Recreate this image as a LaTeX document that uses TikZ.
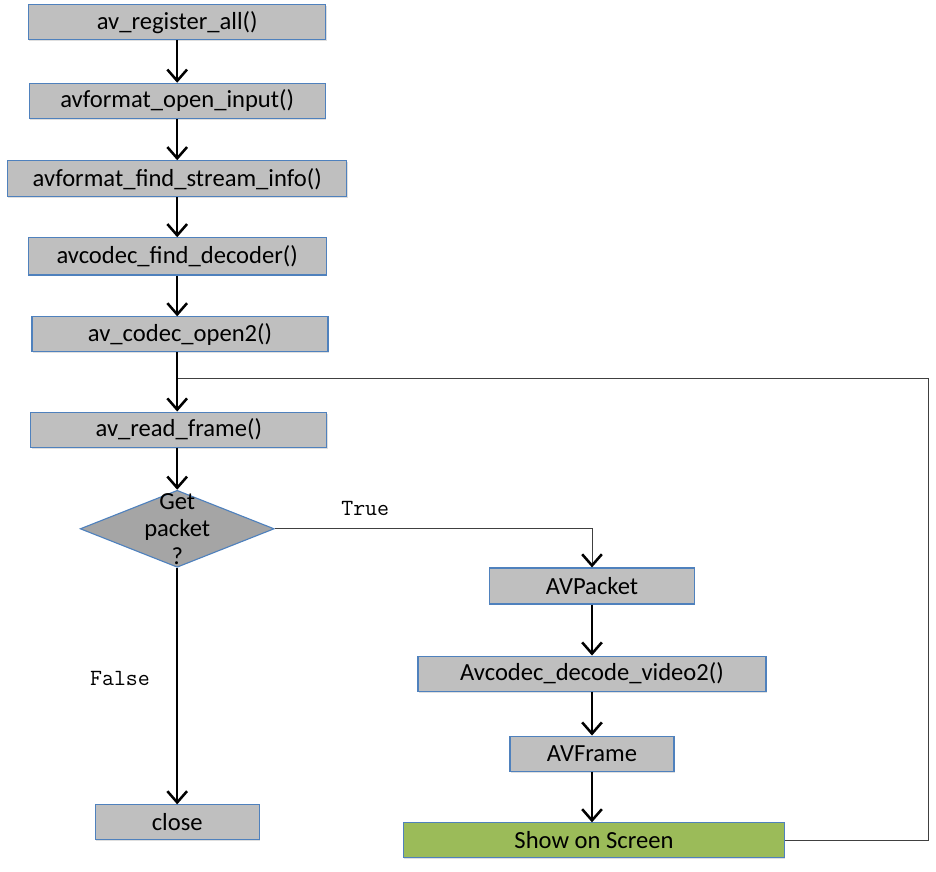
\documentclass[tikz,border=0pt]{standalone}
\usepackage{fontspec}
\setmainfont{Carlito}
\usetikzlibrary{arrows.meta,shapes.geometric,shadows}
\definecolor{boxgray}{HTML}{BFBFBF}
\definecolor{diagray}{HTML}{A5A5A5}
\definecolor{boxblue}{HTML}{4F81BD}
\definecolor{showgreen}{HTML}{9BBB59}
\begin{document}
\begin{tikzpicture}[
        line width=0.9pt,
        every node/.style={font=\fontsize{17.5}{20}\selectfont},
        func/.style={draw=boxblue, fill=boxgray, line width=0.8pt,
          minimum height=0.875cm, inner sep=0pt,
          drop shadow={opacity=0.25, shadow xshift=0.5pt, shadow yshift=-1pt}},
        flow/.style={black, line width=1.8pt, -{Straight Barb[length=8pt, width=14pt]}},
        thinline/.style={draw=black!75, line width=0.6pt},
        branch/.style={font=\ttfamily\fontsize{16.5}{18}\selectfont}
    ]
    \useasboundingbox (0,0) rectangle (23.4,-21.8);

    % Left column: setup calls
    \node[func, minimum width=7.43cm] (reg) at (4.43,-0.56) {av\_register\_all()};
    \node[func, minimum width=7.40cm] (open) at (4.43,-2.52) {avformat\_open\_input()};
    \node[func, minimum width=8.48cm, minimum height=0.9cm] (find) at (4.43,-4.47) {avformat\_find\_stream\_info()};
    \node[func, minimum width=7.45cm, minimum height=0.93cm] (dec) at (4.43,-6.41) {avcodec\_find\_decoder()};
    \node[func, minimum width=7.40cm] (codec) at (4.5,-8.36) {av\_codec\_open2()};
    \node[func, minimum width=7.40cm] (read) at (4.47,-10.74) {av\_read\_frame()};

    % Decision
    \node[diamond, draw=boxblue, fill=diagray, line width=0.8pt,
      minimum width=4.85cm, minimum height=1.925cm, inner sep=0pt,
      label={[align=center, font=\fontsize{17.5}{19.5}\selectfont]center:Get\\packet\\?}] (get) at (4.43,-13.22) {};

    \node[func, minimum width=4.1cm] (close) at (4.43,-20.56) {close};

    % Right column: decoding
    \node[func, minimum width=5.13cm, minimum height=0.9cm] (pkt) at (14.8,-14.65) {AVPacket};
    \node[func, minimum width=8.7cm] (vid) at (14.8,-16.84) {Avcodec\_decode\_video2()};
    \node[func, minimum width=4.1cm] (frame) at (14.8,-18.84) {AVFrame};
    \node[func, fill=showgreen, minimum width=9.53cm] (show) at (14.85,-21.01) {Show on Screen};

    % Loop back
    \coordinate (back) at (23.22,-9.47);
    \coordinate (join) at (4.43,-9.47);
    \draw[thinline] (show.east) -- (show.east -| back) -- (back) -- (join);

    % Main arrows
    \draw[flow] (reg) -- (open);
    \draw[flow] (open) -- (find);
    \draw[flow] (find) -- (dec);
    \draw[flow] (dec) -- (dec |- codec.north);
    \draw[flow] (codec.south -| join) -- (read.north -| join);
    \draw[flow] (read.south -| get) -- (get);
    \draw[flow] (get) -- (close);
    \draw[flow] (pkt) -- (vid);
    \draw[flow] (vid) -- (frame);
    \draw[flow] (frame) -- (frame |- show.north);

    % True branch
    \draw[thinline, -{Straight Barb[length=8pt, width=14pt, line width=1.8pt, black]}]
      (get.east) -- (get.east -| pkt) -- (pkt.north);

    % Labels
    \node[branch] (true) at (9.13,-12.72) {True};
    \node[branch] (false) at (3.0,-16.95) {False};
\end{tikzpicture}
\end{document}
